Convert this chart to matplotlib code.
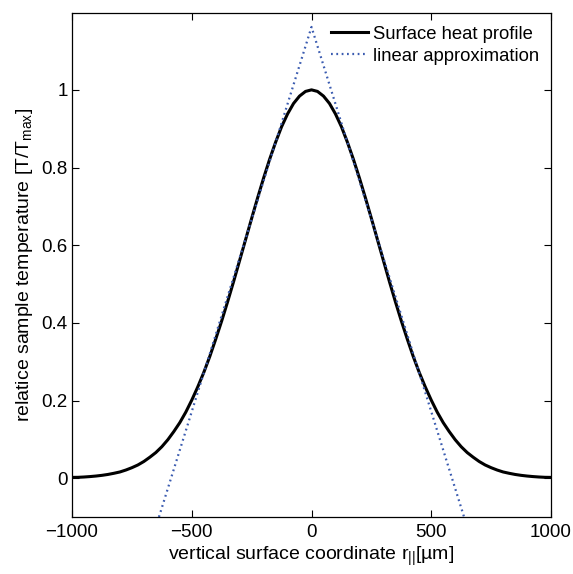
import matplotlib
matplotlib.use("Agg")
import matplotlib.pyplot as plt

plt.rcParams['font.family'] = ['Liberation Sans', 'DejaVu Sans']
plt.rcParams['mathtext.fontset'] = 'custom'
plt.rcParams['mathtext.rm'] = 'Liberation Sans'
plt.rcParams['mathtext.it'] = 'Liberation Sans'

# Surface heat profile
x_profile = [-1000, -975, -950, -925, -900, -875, -850, -825, -800, -775,
             -750, -725, -700, -675, -650, -625, -600, -575, -550, -525,
             -500, -475, -450, -425, -400, -375, -350, -325, -300, -275,
             -250, -225, -200, -175, -150, -125, -100, -75, -50, -25,
             0,
             25, 50, 75, 100, 125, 150, 175, 200, 225, 250,
             275, 300, 325, 350, 375, 400, 425, 450, 475, 500,
             525, 550, 575, 600, 625, 650, 675, 700, 725, 750,
             775, 800, 825, 850, 875, 900, 925, 950, 975, 1000]
y_profile = [0.002, 0.0022, 0.003, 0.0041, 0.0055, 0.0073, 0.0096, 0.0126, 0.016, 0.021,
             0.027, 0.034, 0.043, 0.054, 0.066, 0.081, 0.099, 0.120, 0.143, 0.170,
             0.201, 0.235, 0.272, 0.313, 0.358, 0.405, 0.455, 0.507, 0.561, 0.615,
             0.669, 0.722, 0.773, 0.821, 0.865, 0.905, 0.938, 0.965, 0.984, 0.996,
             1.0,
             0.996, 0.984, 0.965, 0.938, 0.905, 0.865, 0.821, 0.773, 0.722, 0.669,
             0.615, 0.561, 0.507, 0.455, 0.405, 0.358, 0.313, 0.272, 0.235, 0.201,
             0.170, 0.143, 0.120, 0.099, 0.081, 0.066, 0.054, 0.043, 0.034, 0.027,
             0.021, 0.016, 0.0126, 0.0096, 0.0073, 0.0055, 0.0041, 0.003, 0.0022, 0.002]

# Linear approximation
x_linear = [-637, 0, 637]
y_linear = [-0.1, 1.162, -0.1]

x_ticks = [-1000, -500, 0, 500, 1000]
x_ticklabels = ['\u22121000', '\u2212500', '0', '500', '1000']
y_ticks = [0, 0.2, 0.4, 0.6, 0.8, 1.0]
y_ticklabels = ['0', '0.2', '0.4', '0.6', '0.8', '1']

fig = plt.figure(figsize=(5.73, 5.74), dpi=100)
ax = fig.add_axes([0.1257, 0.0993, 0.8359, 0.8781])

ax.plot(x_profile, y_profile, color='black', lw=2.2, label='Surface heat profile')
ax.plot(x_linear, y_linear, color='#3a5bb0', lw=1.6, linestyle=(0, (0.8, 1.6)),
        label='linear approximation')

ax.set_xlim(-1000, 1000)
ax.set_ylim(-0.1, 1.198)
ax.set_xticks(x_ticks)
ax.set_xticklabels(x_ticklabels)
ax.set_yticks(y_ticks)
ax.set_yticklabels(y_ticklabels)
ax.tick_params(direction='in', top=True, right=True, labelsize=13.5, length=5, width=0.8)
ax.tick_params(axis='x', pad=5)
ax.tick_params(axis='y', pad=3)
for s in ax.spines.values():
    s.set_linewidth(0.9)

ax.set_xlabel('vertical surface coordinate r$_{||}$[\u00b5m]', fontsize=14, labelpad=3)
ax.set_ylabel('relatice sample temperature [T/T$_{\\mathregular{max}}$]', fontsize=14, labelpad=5)

leg = ax.legend(loc='upper right', bbox_to_anchor=(1.003, 1.0), frameon=False, fontsize=13.3,
                handlelength=2.0, handletextpad=0.3, labelspacing=0.25, borderaxespad=0.3)

fig.savefig('out.png', dpi=100)
